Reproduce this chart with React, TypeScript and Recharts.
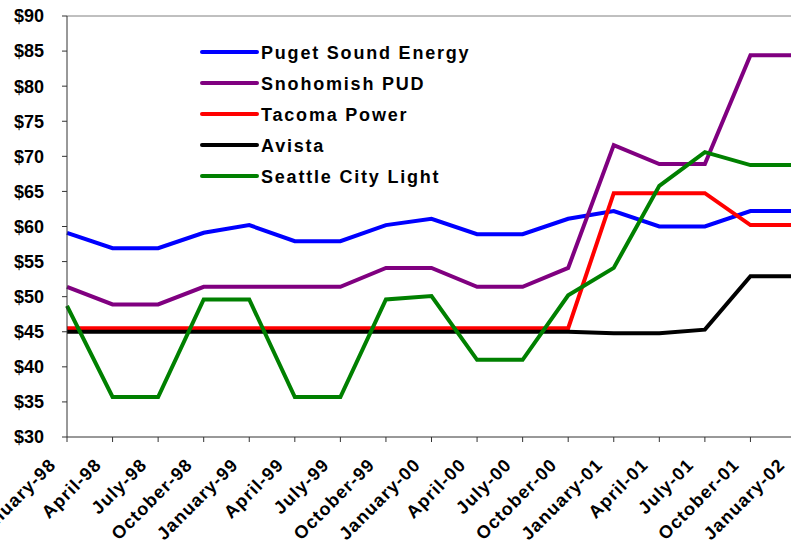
import React from "react";
import {
  LineChart,
  Line,
  XAxis,
  YAxis,
  Legend,
  ReferenceLine,
} from "recharts";

const months = [
  "January-98",
  "April-98",
  "July-98",
  "October-98",
  "January-99",
  "April-99",
  "July-99",
  "October-99",
  "January-00",
  "April-00",
  "July-00",
  "October-00",
  "January-01",
  "April-01",
  "July-01",
  "October-01",
  "January-02",
];

const pugetSound = [59.1, 56.9, 56.9, 59.1, 60.2, 57.9, 57.9, 60.2, 61.1, 58.9, 58.9, 61.1, 62.2, 60.0, 60.0, 62.2, 62.2];
const snohomish = [51.4, 48.9, 48.9, 51.4, 51.4, 51.4, 51.4, 54.1, 54.1, 51.4, 51.4, 54.1, 71.6, 68.9, 68.9, 84.4, 84.4];
const tacoma = [45.5, 45.5, 45.5, 45.5, 45.5, 45.5, 45.5, 45.5, 45.5, 45.5, 45.5, 45.5, 64.75, 64.75, 64.75, 60.2, 60.2];
const avista = [45.0, 45.0, 45.0, 45.0, 45.0, 45.0, 45.0, 45.0, 45.0, 45.0, 45.0, 45.0, 44.8, 44.8, 45.3, 52.9, 52.9];
const seattle = [48.7, 35.7, 35.7, 49.6, 49.6, 35.7, 35.7, 49.6, 50.1, 41.0, 41.0, 50.2, 54.1, 65.8, 70.6, 68.75, 68.75];

const yTicks = [30, 35, 40, 45, 50, 55, 60, 65, 70, 75, 80, 85, 90];

const series = [
  { key: "puget", name: "Puget Sound Energy", color: "#0000ff", values: pugetSound },
  { key: "snohomish", name: "Snohomish PUD", color: "#800080", values: snohomish },
  { key: "tacoma", name: "Tacoma Power", color: "#ff0000", values: tacoma },
  { key: "avista", name: "Avista", color: "#000000", values: avista },
  { key: "seattle", name: "Seattle City Light", color: "#008000", values: seattle },
];

const data = months.map((month, i) => {
  const row: Record<string, string | number> = { month };
  series.forEach((s) => {
    row[s.key] = s.values[i];
  });
  return row;
});

const FONT = "'Liberation Sans', Arial, sans-serif";

const XTick = ({ x, y, payload }: { x?: number; y?: number; payload?: { value: string } }) => {
  const ax = (x ?? 0) - 10;
  const ay = (y ?? 0) + 22;
  return (
    <text
      x={ax}
      y={ay}
      transform={`rotate(-45 ${ax} ${ay})`}
      textAnchor="end"
      fontFamily={FONT}
      fontWeight="bold"
      fontSize={18}
      letterSpacing={1.1}
      fill="#000"
    >
      {payload?.value}
    </text>
  );
};

const LegendBox = () => (
  <svg width={300} height={160}>
    {series.map((s, i) => {
      const cy = 14 + i * 31;
      return (
        <g key={s.key}>
          <line x1={2} x2={57} y1={cy} y2={cy} stroke={s.color} strokeWidth={4} strokeLinecap="round" />
          <text
            x={61}
            y={cy + 6.5}
            fontFamily={FONT}
            fontWeight="bold"
            fontSize={18}
            letterSpacing={1.8}
            fill="#000"
          >
            {s.name}
          </text>
        </g>
      );
    })}
  </svg>
);

export default function App() {
  return (
    <div
      style={{
        position: "absolute",
        left: 0,
        top: 0,
        width: 791,
        height: 548,
        overflow: "hidden",
        background: "#fff",
      }}
    >
      <LineChart
        width={800}
        height={548}
        data={data}
        margin={{ top: 16, right: 4, bottom: 0, left: 0 }}
      >
        <XAxis
          dataKey="month"
          interval={0}
          height={111}
          tickSize={5}
          stroke="#333"
          tick={<XTick />}
        />
        <YAxis
          domain={[30, 90]}
          ticks={yTicks}
          width={67}
          tickSize={5}
          tickMargin={18}
          stroke="#333"
          tickFormatter={(v: number) => `$${v}`}
          tick={{ fill: "#000", fontSize: 18, fontWeight: "bold", fontFamily: FONT }}
        />
        <ReferenceLine y={90} stroke="#808080" strokeWidth={1} />
        <Legend
          layout="vertical"
          align="center"
          verticalAlign="middle"
          wrapperStyle={{ left: 200, top: 38, width: 300, height: 160 }}
          content={<LegendBox />}
        />
        {series.map((s) => (
          <Line
            key={s.key}
            type="linear"
            dataKey={s.key}
            name={s.name}
            stroke={s.color}
            strokeWidth={4}
            dot={false}
            activeDot={false}
            isAnimationActive={false}
          />
        ))}
      </LineChart>
    </div>
  );
}
